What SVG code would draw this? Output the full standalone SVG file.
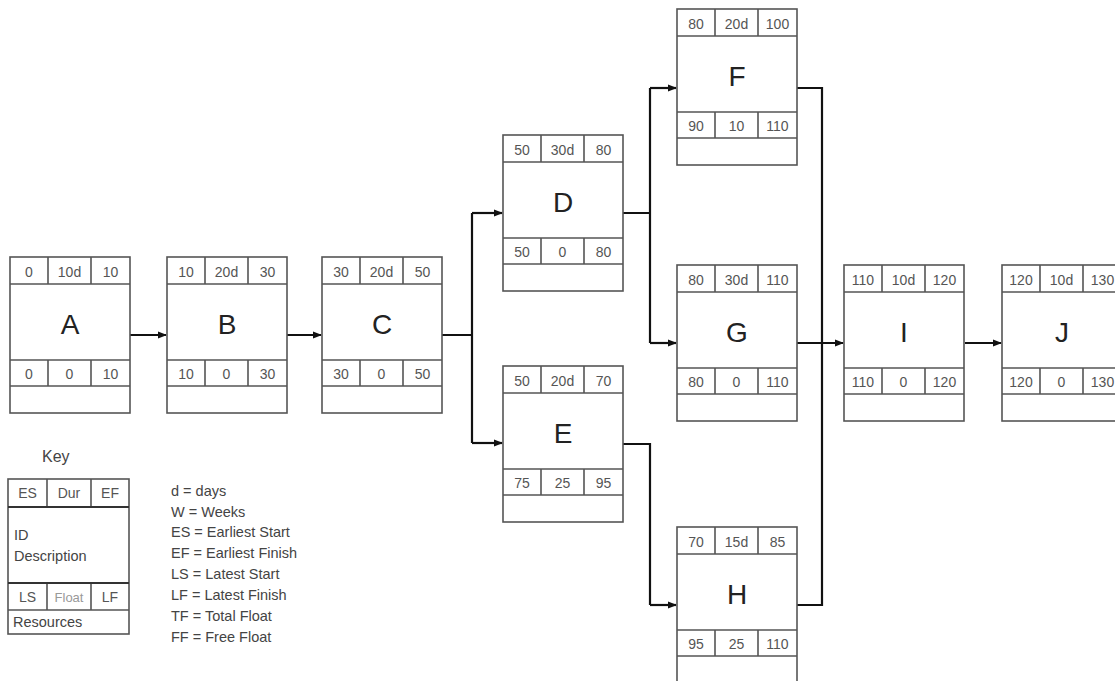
<svg xmlns="http://www.w3.org/2000/svg" xmlns:xlink="http://www.w3.org/1999/xlink" width="1115" height="681" viewBox="0 0 1115 681">
<style>
.box{fill:#fff;stroke:#555;stroke-width:1.6}
.ln{stroke:#555;stroke-width:1.6;fill:none}
.dk{stroke:#333;stroke-width:2;fill:none}
.num{font-family:"Liberation Sans",Arial,sans-serif;font-size:14px;fill:#555;text-anchor:middle}
.id{font-family:"Liberation Sans",Arial,sans-serif;font-size:28px;fill:#222;text-anchor:middle}
.leg{font-family:"Liberation Sans",Arial,sans-serif;font-size:14.5px;fill:#444}
.con{stroke:#111;stroke-width:2.2;fill:none}
.arr{stroke:#111;stroke-width:2.2;fill:none;marker-end:url(#ah)}
</style>
<defs>
<marker id="ah" markerWidth="9" markerHeight="8" refX="8" refY="4" orient="auto" markerUnits="userSpaceOnUse">
<path d="M0,0.5 L9,4 L0,7.5 Z" fill="#111"/>
</marker>
<g id="frame">
<rect class="box" x="0" y="0" width="120" height="156"/>
<path class="ln" d="M0,27H120M0,103H120M0,129H120M38,0V27M81,0V27M38,103V129M81,103V129"/>
</g>
</defs>
<rect width="1115" height="681" fill="#fff"/>

<g id="connectors">
<path class="arr" d="M130,335H166"/>
<path class="arr" d="M287,335H321"/>
<path class="con" d="M442,335H472M472,213V443"/>
<path class="arr" d="M472,213H502"/>
<path class="arr" d="M472,443H502"/>
<path class="con" d="M623,213H650M650,88V343"/>
<path class="arr" d="M650,88H676"/>
<path class="arr" d="M650,343H676"/>
<path class="con" d="M623,444H650V605"/>
<path class="arr" d="M650,605H676"/>
<path class="con" d="M797,88H822V605H797"/>
<path class="arr" d="M797,343H843"/>
<path class="arr" d="M965,343H1001"/>
</g>

<g id="A" transform="translate(10,257)"><use xlink:href="#frame"/>
<text class="num" x="19" y="20">0</text><text class="num" x="59.5" y="20">10d</text><text class="num" x="100.5" y="20">10</text>
<text class="id" x="60" y="77">A</text>
<text class="num" x="19" y="122">0</text><text class="num" x="59.5" y="122">0</text><text class="num" x="100.5" y="122">10</text></g>

<g id="B" transform="translate(167,257)"><use xlink:href="#frame"/>
<text class="num" x="19" y="20">10</text><text class="num" x="59.5" y="20">20d</text><text class="num" x="100.5" y="20">30</text>
<text class="id" x="60" y="77">B</text>
<text class="num" x="19" y="122">10</text><text class="num" x="59.5" y="122">0</text><text class="num" x="100.5" y="122">30</text></g>

<g id="C" transform="translate(322,257)"><use xlink:href="#frame"/>
<text class="num" x="19" y="20">30</text><text class="num" x="59.5" y="20">20d</text><text class="num" x="100.5" y="20">50</text>
<text class="id" x="60" y="77">C</text>
<text class="num" x="19" y="122">30</text><text class="num" x="59.5" y="122">0</text><text class="num" x="100.5" y="122">50</text></g>

<g id="D" transform="translate(503,135)"><use xlink:href="#frame"/>
<text class="num" x="19" y="20">50</text><text class="num" x="59.5" y="20">30d</text><text class="num" x="100.5" y="20">80</text>
<text class="id" x="60" y="77">D</text>
<text class="num" x="19" y="122">50</text><text class="num" x="59.5" y="122">0</text><text class="num" x="100.5" y="122">80</text></g>

<g id="E" transform="translate(503,366)"><use xlink:href="#frame"/>
<text class="num" x="19" y="20">50</text><text class="num" x="59.5" y="20">20d</text><text class="num" x="100.5" y="20">70</text>
<text class="id" x="60" y="77">E</text>
<text class="num" x="19" y="122">75</text><text class="num" x="59.5" y="122">25</text><text class="num" x="100.5" y="122">95</text></g>

<g id="F" transform="translate(677,9)"><use xlink:href="#frame"/>
<text class="num" x="19" y="20">80</text><text class="num" x="59.5" y="20">20d</text><text class="num" x="100.5" y="20">100</text>
<text class="id" x="60" y="77">F</text>
<text class="num" x="19" y="122">90</text><text class="num" x="59.5" y="122">10</text><text class="num" x="100.5" y="122">110</text></g>

<g id="G" transform="translate(677,265)"><use xlink:href="#frame"/>
<text class="num" x="19" y="20">80</text><text class="num" x="59.5" y="20">30d</text><text class="num" x="100.5" y="20">110</text>
<text class="id" x="60" y="77">G</text>
<text class="num" x="19" y="122">80</text><text class="num" x="59.5" y="122">0</text><text class="num" x="100.5" y="122">110</text></g>

<g id="H" transform="translate(677,527)"><use xlink:href="#frame"/>
<text class="num" x="19" y="20">70</text><text class="num" x="59.5" y="20">15d</text><text class="num" x="100.5" y="20">85</text>
<text class="id" x="60" y="77">H</text>
<text class="num" x="19" y="122">95</text><text class="num" x="59.5" y="122">25</text><text class="num" x="100.5" y="122">110</text></g>

<g id="I" transform="translate(844,265)"><use xlink:href="#frame"/>
<text class="num" x="19" y="20">110</text><text class="num" x="59.5" y="20">10d</text><text class="num" x="100.5" y="20">120</text>
<text class="id" x="60" y="77">I</text>
<text class="num" x="19" y="122">110</text><text class="num" x="59.5" y="122">0</text><text class="num" x="100.5" y="122">120</text></g>

<g id="J" transform="translate(1002,265)"><use xlink:href="#frame"/>
<text class="num" x="19" y="20">120</text><text class="num" x="59.5" y="20">10d</text><text class="num" x="100.5" y="20">130</text>
<text class="id" x="60" y="77">J</text>
<text class="num" x="19" y="122">120</text><text class="num" x="59.5" y="122">0</text><text class="num" x="100.5" y="122">130</text></g>

<g id="key">
<text class="leg" x="42" y="462" style="font-size:16px">Key</text>
<g transform="translate(8,479)">
<rect class="box" x="0" y="0" width="121" height="155"/>
<path class="ln" d="M0,131H121M39,0V28M83,0V28M39,104V131M83,104V131"/>
<path class="dk" d="M0,28H121M0,104H121"/>
<text class="num" x="19.5" y="19">ES</text><text class="num" x="61" y="19">Dur</text><text class="num" x="102" y="19">EF</text>
<text class="leg" x="6" y="61">ID</text>
<text class="leg" x="6" y="82">Description</text>
<text class="num" x="19.5" y="123">LS</text><text class="num" x="61" y="123" style="font-size:13px;fill:#999">Float</text><text class="num" x="102" y="123">LF</text>
<text class="leg" x="5" y="148">Resources</text>
</g>
</g>

<g id="legend" class="leg">
<text x="171" y="496">d = days</text>
<text x="171" y="517">W = Weeks</text>
<text x="171" y="537">ES = Earliest Start</text>
<text x="171" y="558">EF = Earliest Finish</text>
<text x="171" y="579">LS = Latest Start</text>
<text x="171" y="600">LF = Latest Finish</text>
<text x="171" y="621">TF = Total Float</text>
<text x="171" y="642">FF = Free Float</text>
</g>
</svg>
